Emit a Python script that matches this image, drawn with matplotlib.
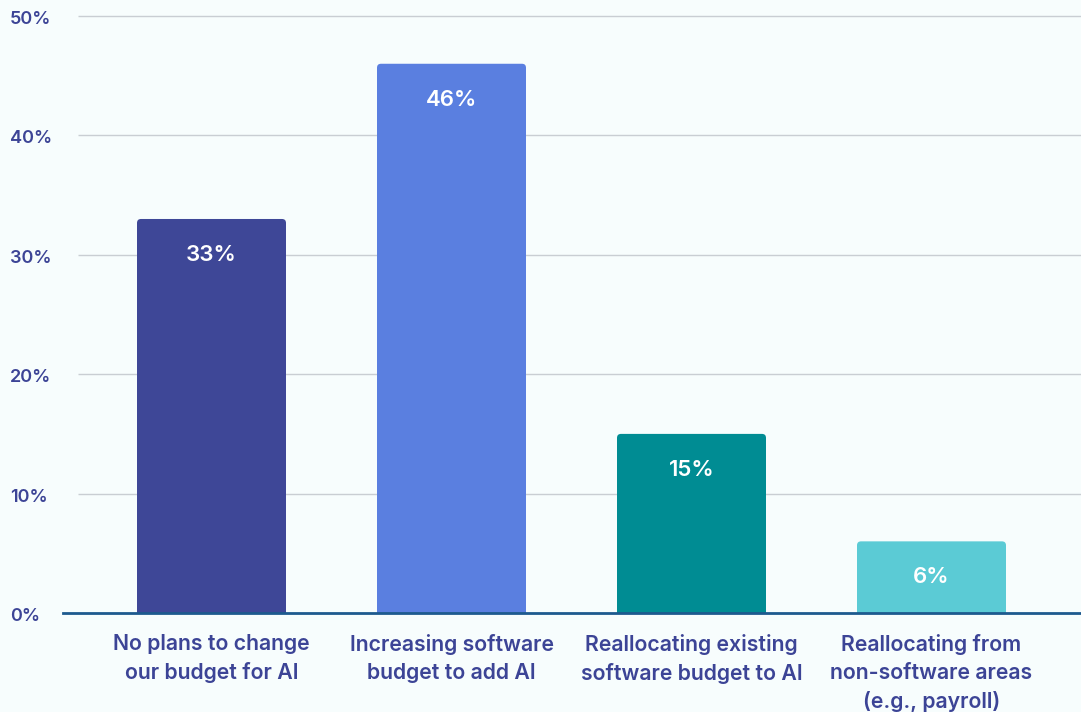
import matplotlib
matplotlib.use("Agg")
import matplotlib.pyplot as plt
from matplotlib.patches import FancyBboxPatch

plt.rcParams['font.family'] = ['Inter', 'DejaVu Sans']

categories = [
    "No plans to change\nour budget for AI",
    "Increasing software\nbudget to add AI",
    "Reallocating existing\nsoftware budget to AI",
    "Reallocating from\nnon-software areas\n(e.g., payroll)",
]
values = [33, 46, 15, 6]
colors = ["#3e4797", "#5a7fe0", "#008c93", "#5bcbd5"]
yticks = [0, 10, 20, 30, 40, 50]

BG = "#f7fdfd"
TEXT = "#3c4496"

W, H = 1081, 712
fig = plt.figure(figsize=(W / 100, H / 100), dpi=100, facecolor=BG)

# pixel geometry of the plotting area
x0_px, y0_px = 63, 613
px_per_pct = (613 - 16) / 50.0
ymax = 51
top_px = y0_px - ymax * px_per_pct
ax = fig.add_axes([x0_px / W, (H - y0_px) / H, 1 - x0_px / W, (y0_px - top_px) / H])
ax.set_facecolor(BG)

slot = 240.0
first_center = 211.5
xmin = (x0_px - first_center) / slot
xmax = (W - first_center) / slot
ax.set_xlim(xmin, xmax)
ax.set_ylim(0, ymax)

# grid lines start a bit right of the baseline
grid_start = (78 - first_center) / slot
for t in yticks[1:]:
    ax.hlines(t, grid_start, xmax, color="#c9ced3", lw=1.0, zorder=0, clip_on=False)

xs = list(range(len(values)))
bars = ax.bar(xs, values, width=149 / slot, color=colors, zorder=2)

# swap plain rectangles for ones with rounded top corners
radius_px = 4
aspect = slot / px_per_pct
for b, c in zip(bars, colors):
    b.set_visible(False)
    x, w, h = b.get_x(), b.get_width(), b.get_height()
    extra = 2 * radius_px / px_per_pct
    p = FancyBboxPatch((x, -extra), w, h + extra,
                       boxstyle=f"round,pad=0,rounding_size={radius_px / slot}",
                       mutation_aspect=aspect, fc=c, ec="none", zorder=2)
    ax.add_patch(p)

for x, v in zip(xs, values):
    ax.text(x, v - 36 / px_per_pct, f"{v}%", ha="center", va="center",
            color="white", fontsize=16, fontweight="semibold", zorder=3)

ax.axhline(0, color="#1d5a8e", lw=2.0, zorder=4, clip_on=False)

for s in ax.spines.values():
    s.set_visible(False)
ax.set_xticks([])
ax.set_yticks([])

# y tick labels, left aligned near the figure edge
for t in yticks:
    ax.text(10 / W, (H - (y0_px - t * px_per_pct) - 3.5) / H, f"{t}%", transform=fig.transFigure,
            ha="left", va="center", color=TEXT, fontsize=13, fontweight="semibold")

for x, lab in zip(xs, categories):
    ax.text(x, -21 / px_per_pct, lab, ha="center", va="top", color=TEXT,
            fontsize=15.3, fontweight="semibold", linespacing=1.49, clip_on=False)

fig.savefig("out.png", dpi=100, facecolor=BG)
